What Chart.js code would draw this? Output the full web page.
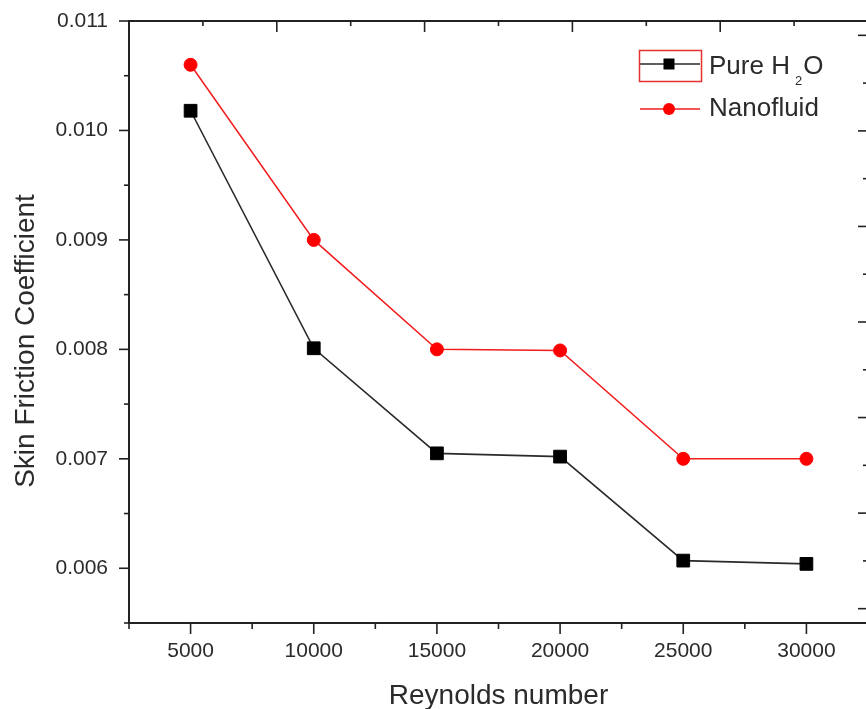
<!DOCTYPE html>
<html>
<head>
<meta charset="utf-8">
<title>Skin friction coefficient vs Reynolds number</title>
<script src="https://cdn.jsdelivr.net/npm/chart.js@4.4.1/dist/chart.umd.min.js"></script>
<style>
  html, body { margin: 0; padding: 0; background: #fff; overflow: hidden; }
  #wrap { width: 878px; height: 709px; }
</style>
</head>
<body>
<div id="wrap"><canvas id="chart" width="878" height="709"></canvas></div>
<script>
// data
const reynolds = [5000, 10000, 15000, 20000, 25000, 30000];
const pureWater = [0.01018, 0.00801, 0.00705, 0.00702, 0.00607, 0.00604];
const nanofluid = [0.01060, 0.00900, 0.00800, 0.00799, 0.00700, 0.00700];

const seriesNames = ['Pure H2O', 'Nanofluid'];
const xTitle = 'Reynolds number';
const yTitle = 'Skin Friction Coefficient';

// tick values (major); minors sit half way
const xTicks = [5000, 10000, 15000, 20000, 25000, 30000];
const yTicks = [0.006, 0.007, 0.008, 0.009, 0.010, 0.011];
const topTicks = [0, 1, 2, 3, 4, 5];      // unlabeled top axis
const rightTicks = [0, 1, 2, 3, 4, 5, 6]; // unlabeled right axis

const INK = '#222';
const TEXT = '#2b2b2b';
Chart.defaults.font.family = '"Liberation Sans", Arial, sans-serif';

function minorsOf(majors) {
    const step = majors[1] - majors[0];
    const out = majors.map(m => m - step / 2);
    out.push(majors[majors.length - 1] + step / 2);
    return out;
}

// frame + Origin style tick marks (out on left/bottom, in on top/right)
const framePlugin = {
    id: 'frame',
    afterDraw(chart) {
        const { ctx, chartArea: a, scales } = chart;
        ctx.save();
        ctx.strokeStyle = INK;
        ctx.lineWidth = 2;
        ctx.strokeRect(a.left, a.top, a.right - a.left, a.bottom - a.top);
        ctx.lineWidth = 1.6;
        const line = (x1, y1, x2, y2) => {
            ctx.beginPath(); ctx.moveTo(x1, y1); ctx.lineTo(x2, y2); ctx.stroke();
        };
        const inRange = (s, v) => v >= s.min - 1e-9 && v <= s.max + 1e-9;

        const draw = (scale, majors, majorLen, minorLen, fn) => {
            majors.filter(v => inRange(scale, v)).forEach(v => fn(scale.getPixelForValue(v), majorLen));
            minorsOf(majors).filter(v => inRange(scale, v)).forEach(v => fn(scale.getPixelForValue(v), minorLen));
        };
        draw(scales.x, xTicks, 11, 6, (p, len) => line(p, a.bottom, p, a.bottom + len));
        draw(scales.y, yTicks, 10, 5, (p, len) => line(a.left, p, a.left - len, p));
        draw(scales.x2, topTicks, 11, 5, (p, len) => line(p, a.top, p, a.top + len));
        draw(scales.y2, rightTicks, 10, 5, (p, len) => line(a.right, p, a.right - len, p));

        // axis titles
        ctx.fillStyle = TEXT;
        ctx.font = '28px "Liberation Sans", Arial, sans-serif';
        ctx.textAlign = 'center';
        ctx.textBaseline = 'alphabetic';
        ctx.fillText(xTitle, (a.left + a.right) / 2, 704);
        ctx.translate(34, 341);
        ctx.rotate(-Math.PI / 2);
        ctx.fillText(yTitle, 0, 0);
        ctx.restore();
    }
};

// draw "H2O" with subscript digits
function drawFormula(ctx, text, x, y, size) {
    let cx = x;
    const parts = text.split(/(\d+)/);
    parts.forEach((part, i) => {
        if (!part) return;
        const isSub = i % 2 === 1;
        if (isSub) cx += 5;
        ctx.font = (isSub ? Math.round(size * 0.5) : size) + 'px "Liberation Sans", Arial, sans-serif';
        ctx.fillText(part, cx, isSub ? y + 11 : y);
        cx += ctx.measureText(part).width + (isSub ? 1 : 0);
    });
}

const legendPlugin = {
    id: 'originLegend',
    afterDraw(chart) {
        const ctx = chart.ctx;
        const rows = [{ line: 64, base: 74 }, { line: 109, base: 116 }];
        ctx.save();
        chart.data.datasets.forEach((ds, i) => {
            const r = rows[i];
            ctx.strokeStyle = ds.borderColor;
            ctx.lineWidth = 1.5;
            ctx.beginPath(); ctx.moveTo(640, r.line); ctx.lineTo(700, r.line); ctx.stroke();
            ctx.fillStyle = ds.pointBackgroundColor;
            if (ds.pointStyle === 'rect') {
                ctx.fillRect(669 - 5.5, r.line - 5.5, 11, 11);
            } else {
                ctx.beginPath(); ctx.arc(669, r.line, 6, 0, Math.PI * 2); ctx.fill();
            }
            ctx.fillStyle = TEXT;
            ctx.textAlign = 'left';
            ctx.textBaseline = 'alphabetic';
            drawFormula(ctx, ds.label, 709, r.base, 26);
        });
        // selection box around first entry
        ctx.strokeStyle = '#e53030';
        ctx.lineWidth = 1.5;
        ctx.strokeRect(639.5, 50.5, 62, 31);
        ctx.restore();
    }
};

const toPoints = ys => reynolds.map((x, i) => ({ x: x, y: ys[i] }));

new Chart(document.getElementById('chart'), {
    type: 'line',
    data: {
        datasets: [{
            label: seriesNames[0],
            data: toPoints(pureWater),
            borderColor: '#2a2a2a',
            borderWidth: 1.6,
            pointStyle: 'rect',
            pointRadius: 9,
            pointBackgroundColor: '#000',
            pointBorderColor: '#000',
            pointBorderWidth: 1,
            tension: 0
        }, {
            label: seriesNames[1],
            data: toPoints(nanofluid),
            borderColor: '#f21c1c',
            borderWidth: 1.5,
            pointStyle: 'circle',
            pointRadius: 6.5,
            pointBackgroundColor: '#ff0000',
            pointBorderColor: '#ff0000',
            pointBorderWidth: 1,
            tension: 0
        }]
    },
    options: {
        responsive: false,
        animation: false,
        events: [],
        layout: { padding: { top: 21, right: 2, left: 0, bottom: 0 } },
        plugins: { legend: { display: false }, tooltip: { enabled: false } },
        scales: {
            x: {
                type: 'linear',
                position: 'bottom',
                min: 2500,
                max: 32500,
                afterBuildTicks: s => { s.ticks = xTicks.map(v => ({ value: v })); },
                afterFit: s => { s.height = 86; s.paddingLeft = 0; s.paddingRight = 0; },
                ticks: {
                    callback: v => String(v),
                    font: { size: 21 },
                    color: TEXT,
                    padding: 16,
                    maxRotation: 0,
                    autoSkip: false
                },
                grid: { display: false, drawTicks: false },
                border: { display: false }
            },
            y: {
                type: 'linear',
                position: 'left',
                min: 0.0055,
                max: 0.011,
                afterBuildTicks: s => { s.ticks = yTicks.map(v => ({ value: v })); },
                afterFit: s => { s.width = 129; s.paddingTop = 0; s.paddingBottom = 0; },
                ticks: {
                    callback: v => v.toFixed(3),
                    font: { size: 21 },
                    color: TEXT,
                    padding: 21
                },
                grid: { display: false, drawTicks: false },
                border: { display: false }
            },
            x2: {
                type: 'linear',
                position: 'top',
                display: false,
                min: 0,
                max: 5
            },
            y2: {
                type: 'linear',
                position: 'right',
                display: false,
                min: -0.15,
                max: 6.15
            }
        }
    },
    plugins: [framePlugin, legendPlugin]
});
</script>
</body>
</html>
